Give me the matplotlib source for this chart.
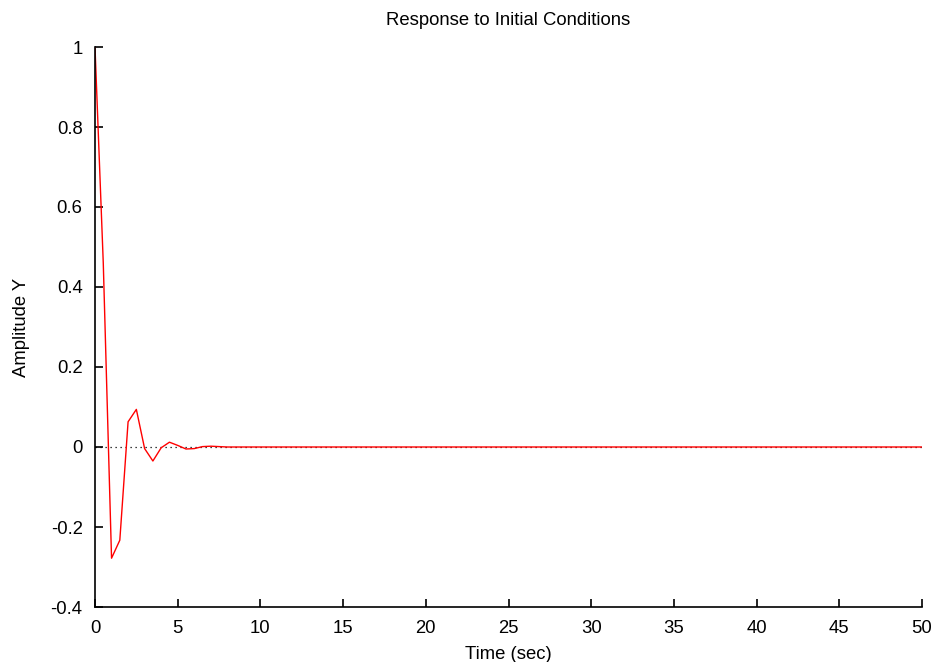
import numpy as np
import matplotlib
matplotlib.use("Agg")
import matplotlib.pyplot as plt

plt.rcParams['font.family'] = ['Liberation Sans', 'DejaVu Sans']

# Sampled response, Ts = 0.5 s
dt = 0.5
y_transient = [1.0, 0.46, -0.278, -0.233, 0.063, 0.094, -0.004, -0.035,
               -0.002, 0.012, 0.004, -0.005, -0.004, 0.001, 0.002, 0.001, 0.0]
y_tail = [0.0] * (101 - len(y_transient))
amplitude = y_transient + y_tail
time = [i * dt for i in range(len(amplitude))]

xticks = [0, 5, 10, 15, 20, 25, 30, 35, 40, 45, 50]
yticks = [-0.4, -0.2, 0, 0.2, 0.4, 0.6, 0.8, 1]

fig = plt.figure(figsize=(9.35, 6.62), dpi=100)
ax = fig.add_axes([95 / 935, 1 - 607 / 662, (922 - 95) / 935, (607 - 47) / 662])

ax.plot([0, 50], [0, 0], color='black', linestyle=(0, (1, 3)), linewidth=0.9)
ax.plot(time, amplitude, color='red', linewidth=1.0)

ax.set_xlim(0, 50)
ax.set_ylim(-0.4, 1)
ax.set_xticks(xticks)
ax.set_xticklabels([str(v) for v in xticks])
ax.set_yticks(yticks)
ax.set_yticklabels(['-0.4', '-0.2', '0', '0.2', '0.4', '0.6', '0.8', '1'])

for side in ('top', 'right'):
    ax.spines[side].set_visible(False)
for side in ('left', 'bottom'):
    ax.spines[side].set_linewidth(1.2)
ax.tick_params(direction='in', length=6, width=1.2, labelsize=13.3)
ax.tick_params(axis='x', pad=9.5)
ax.tick_params(axis='y', pad=9)

ax.set_title('Response to Initial Conditions', fontsize=13.3, pad=16)
ax.set_xlabel('Time (sec)', fontsize=13.3, labelpad=6)
ax.set_ylabel('Amplitude Y', fontsize=13.3, labelpad=15)

fig.savefig('out.png', dpi=100)
